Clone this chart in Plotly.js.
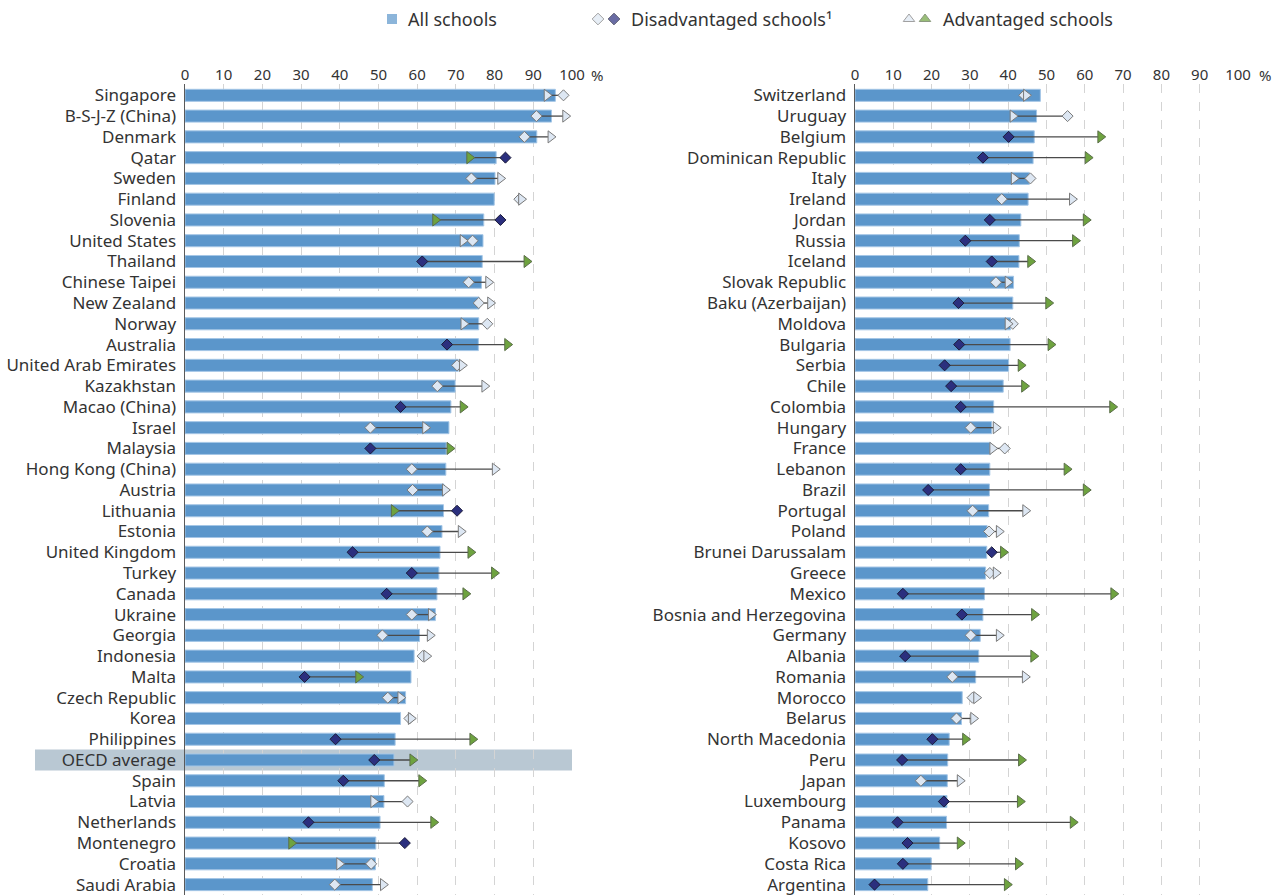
<!DOCTYPE html>
<html>
<head>
<meta charset="utf-8">
<script src="https://cdn.plot.ly/plotly-3.0.1.min.js"></script>
<style>html,body{margin:0;padding:0;background:#fff;}#chart{width:1286px;height:895px;}</style>
</head>
<body>
<div id="chart"></div>
<script>
// ---------- DATA ----------
const countriesL = ["Singapore","B-S-J-Z (China)","Denmark","Qatar","Sweden","Finland","Slovenia","United States","Thailand","Chinese Taipei","New Zealand","Norway","Australia","United Arab Emirates","Kazakhstan","Macao (China)","Israel","Malaysia","Hong Kong (China)","Austria","Lithuania","Estonia","United Kingdom","Turkey","Canada","Ukraine","Georgia","Indonesia","Malta","Czech Republic","Korea","Philippines","OECD average","Spain","Latvia","Netherlands","Montenegro","Croatia","Saudi Arabia"];
const allL = [95.7,94.7,90.9,80.4,80.1,79.9,77.2,77.0,76.8,76.6,76.0,75.9,75.8,70.6,69.8,68.7,68.2,67.5,67.4,66.9,66.8,66.4,65.9,65.6,65.1,64.7,60.6,59.2,58.4,57.0,55.7,54.3,54.0,51.5,51.4,50.4,49.3,49.2,48.4];
const disL = [97.8,90.8,87.7,82.8,74.0,86.4,81.5,74.3,61.3,73.3,75.9,78.1,67.7,70.3,65.2,55.7,47.9,47.9,58.6,58.8,70.3,62.6,43.3,58.6,52.1,58.6,51.0,61.4,30.9,52.4,58.0,38.9,48.9,40.9,57.5,31.9,56.8,48.1,38.7];
const advL = [93.5,98.3,94.5,73.5,81.5,86.9,64.7,71.8,88.3,78.4,78.9,72.0,83.3,71.6,77.4,71.8,62.1,68.4,80.1,67.2,54.0,71.3,73.8,79.9,72.5,63.6,63.3,62.4,44.8,55.7,58.4,74.3,58.8,61.1,48.7,64.2,27.5,39.9,51.2];
const sigL = [0,0,0,1,0,0,1,0,1,0,0,0,1,0,0,1,0,1,0,0,1,0,1,1,1,0,0,0,1,0,0,1,1,1,0,1,1,0,0];

const countriesR = ["Switzerland","Uruguay","Belgium","Dominican Republic","Italy","Ireland","Jordan","Russia","Iceland","Slovak Republic","Baku (Azerbaijan)","Moldova","Bulgaria","Serbia","Chile","Colombia","Hungary","France","Lebanon","Brazil","Portugal","Poland","Brunei Darussalam","Greece","Mexico","Bosnia and Herzegovina","Germany","Albania","Romania","Morocco","Belarus","North Macedonia","Peru","Japan","Luxembourg","Panama","Kosovo","Costa Rica","Argentina"];
const allR = [48.4,47.4,46.8,46.5,45.5,45.2,43.3,42.9,42.8,41.4,41.2,40.6,40.5,40.1,38.7,36.2,35.7,35.3,35.2,35.1,34.9,34.5,34.4,34.1,33.8,33.4,32.7,32.3,31.5,28.0,27.8,24.6,24.2,24.1,24.0,23.9,22.1,19.9,19.0];
const disR = [44.2,55.5,40.1,33.4,45.8,38.3,35.2,28.8,35.7,36.8,27.0,41.2,27.2,23.4,25.1,27.6,30.2,39.1,27.6,19.1,30.7,35.0,35.7,35.2,12.5,27.9,30.2,13.1,25.4,30.7,26.5,20.2,12.3,17.2,23.2,11.1,13.7,12.5,5.1];
const advR = [44.7,41.2,64.1,60.8,41.5,56.7,60.3,57.5,45.8,39.9,50.5,39.9,51.1,43.3,44.2,67.2,36.8,35.9,55.3,60.3,44.5,37.6,38.7,36.8,67.5,46.8,37.6,46.6,44.4,31.7,30.9,28.8,43.4,27.4,43.1,56.9,27.4,42.6,39.7];
const sigR = [0,0,1,1,0,0,1,1,1,0,1,0,1,1,1,1,0,0,1,1,0,0,1,0,1,1,0,1,0,0,0,1,1,0,1,1,1,1,1];

const xTicks = [0,10,20,30,40,50,60,70,80,90,100];
const legendLabels = ["All schools","Disadvantaged schools¹","Advantaged schools"];
const highlightRow = "OECD average";

// ---------- STYLE ----------
const FONT = "Noto Sans, Open Sans, Arial, sans-serif";
const TXT = "#333333";
const BAR = "#5b96cb";
const BAR_EDGE = "#a4c6e6";
const NAVY = "#2b2f7e";
const GREEN = "#6ea33f";
const LIGHT = "#dde7f3";
const OUTL = "#7a7a7a";
const W = 1286, H = 895;
const yDom = [0, 1 - 83.9 / H];
const yRange = [38.5, -0.55];

function panel(cats, all, dis, adv, sig, xa, ya) {
  const lx = [], ly = [];
  cats.forEach((c, i) => { lx.push(dis[i], adv[i], null); ly.push(c, c, null); });
  const pick = (arr, want) => arr.map((v, i) => (sig[i] === want ? v : null));
  const base = {xaxis: xa, yaxis: ya, hoverinfo: "x+y", showlegend: false};
  return [
    Object.assign({type: "bar", orientation: "h", x: all, y: cats, width: 0.58,
      marker: {color: BAR, line: {color: BAR_EDGE, width: 1}}}, base),
    Object.assign({type: "scatter", mode: "lines", x: lx, y: ly, cliponaxis: false,
      line: {color: "#4a4a4a", width: 1.3}, hoverinfo: "skip"}, base),
    Object.assign({type: "scatter", mode: "markers", x: pick(dis, 0), y: cats, cliponaxis: false,
      marker: {symbol: "diamond", size: 8.5, color: LIGHT, line: {color: OUTL, width: 1}}}, base),
    Object.assign({type: "scatter", mode: "markers", x: pick(dis, 1), y: cats, cliponaxis: false,
      marker: {symbol: "diamond", size: 8.5, color: NAVY, line: {color: "#1b1b3a", width: 1}}}, base),
    Object.assign({type: "scatter", mode: "markers", x: pick(adv, 0), y: cats, cliponaxis: false,
      marker: {symbol: "triangle-right", size: 10.5, color: LIGHT, line: {color: OUTL, width: 1}}}, base),
    Object.assign({type: "scatter", mode: "markers", x: pick(adv, 1), y: cats, cliponaxis: false,
      marker: {symbol: "triangle-right", size: 10.5, color: GREEN, line: {color: "#5b6e4a", width: 1}}}, base)
  ];
}

const data = [].concat(
  panel(countriesL, allL, disL, advL, sigL, "x", "y"),
  panel(countriesR, allR, disR, advR, sigR, "x2", "y2")
);

// legend glyphs on a hidden pixel-scaled axis
data.push({type: "scatter", mode: "markers", xaxis: "x3", yaxis: "y3", hoverinfo: "skip", showlegend: false,
  x: [392, 598, 614, 909, 925], y: [19, 19, 19, 19, 19],
  marker: {symbol: ["square", "diamond", "diamond", "triangle-up", "triangle-up"],
    size: [10, 9, 9, 10, 10], color: [BAR, LIGHT, NAVY, LIGHT, GREEN],
    line: {color: [BAR, OUTL, "#1b1b3a", OUTL, "#5b6e4a"], width: [0, 1, 1, 1, 1]}}});

function xAxis(dom, anchor) {
  return {domain: dom, anchor: anchor, side: "top", range: [0, 100], tickvals: xTicks,
    ticktext: xTicks.map(String), showgrid: true, gridcolor: "#d4d4d4", griddash: "dash",
    gridwidth: 1, zeroline: false, showline: false, ticks: "", fixedrange: true,
    tickfont: {family: FONT, size: 15, color: TXT}};
}
function yAxis(cats, anchor) {
  return {domain: yDom, anchor: anchor, type: "category", categoryorder: "array", categoryarray: cats,
    range: yRange, showline: true, linecolor: "#5a5a5a", linewidth: 1.5, ticks: "",
    showgrid: false, zeroline: false, fixedrange: true, ticklabelstandoff: 4,
    tickfont: {family: FONT, size: 17, color: TXT}};
}

function rowToPaper(i) {
  return yDom[1] - (i - yRange[1]) / (yRange[0] - yRange[1]) * (yDom[1] - yDom[0]);
}
const hi = countriesL.indexOf(highlightRow);

const layout = {
  width: W, height: H, margin: {l: 0, r: 0, t: 0, b: 0},
  paper_bgcolor: "#ffffff", plot_bgcolor: "rgba(0,0,0,0)",
  font: {family: FONT, color: TXT},
  xaxis: xAxis([185 / W, 572 / W], "y"),
  yaxis: yAxis(countriesL, "x"),
  xaxis2: xAxis([855 / W, 1238 / W], "y2"),
  yaxis2: yAxis(countriesR, "x2"),
  xaxis3: {domain: [0, 1], range: [0, W], visible: false, anchor: "y3", fixedrange: true},
  yaxis3: {domain: [1 - 40 / H, 1], range: [40, 0], visible: false, anchor: "x3", fixedrange: true},
  shapes: [{type: "rect", xref: "paper", yref: "paper", layer: "below",
    x0: 35 / W, x1: 572 / W, y0: rowToPaper(hi + 0.5), y1: rowToPaper(hi - 0.5),
    fillcolor: "#b9c8d3", line: {width: 0}}],
  annotations: [
    {xref: "paper", yref: "paper", x: 597 / W, y: 1 - 75 / H, text: "%", showarrow: false,
      xanchor: "center", yanchor: "middle", font: {family: FONT, size: 15, color: TXT}},
    {xref: "paper", yref: "paper", x: 1265 / W, y: 1 - 75 / H, text: "%", showarrow: false,
      xanchor: "center", yanchor: "middle", font: {family: FONT, size: 15, color: TXT}},
    {xref: "paper", yref: "paper", x: 406 / W, y: 1 - 19 / H, text: legendLabels[0], showarrow: false,
      xanchor: "left", yanchor: "middle", font: {family: FONT, size: 18, color: TXT}},
    {xref: "paper", yref: "paper", x: 629 / W, y: 1 - 19 / H, text: legendLabels[1], showarrow: false,
      xanchor: "left", yanchor: "middle", font: {family: FONT, size: 18, color: TXT}},
    {xref: "paper", yref: "paper", x: 941 / W, y: 1 - 19 / H, text: legendLabels[2], showarrow: false,
      xanchor: "left", yanchor: "middle", font: {family: FONT, size: 18, color: TXT}}
  ]
};

Plotly.newPlot("chart", data, layout, {displayModeBar: false, staticPlot: true});
</script>
</body>
</html>
